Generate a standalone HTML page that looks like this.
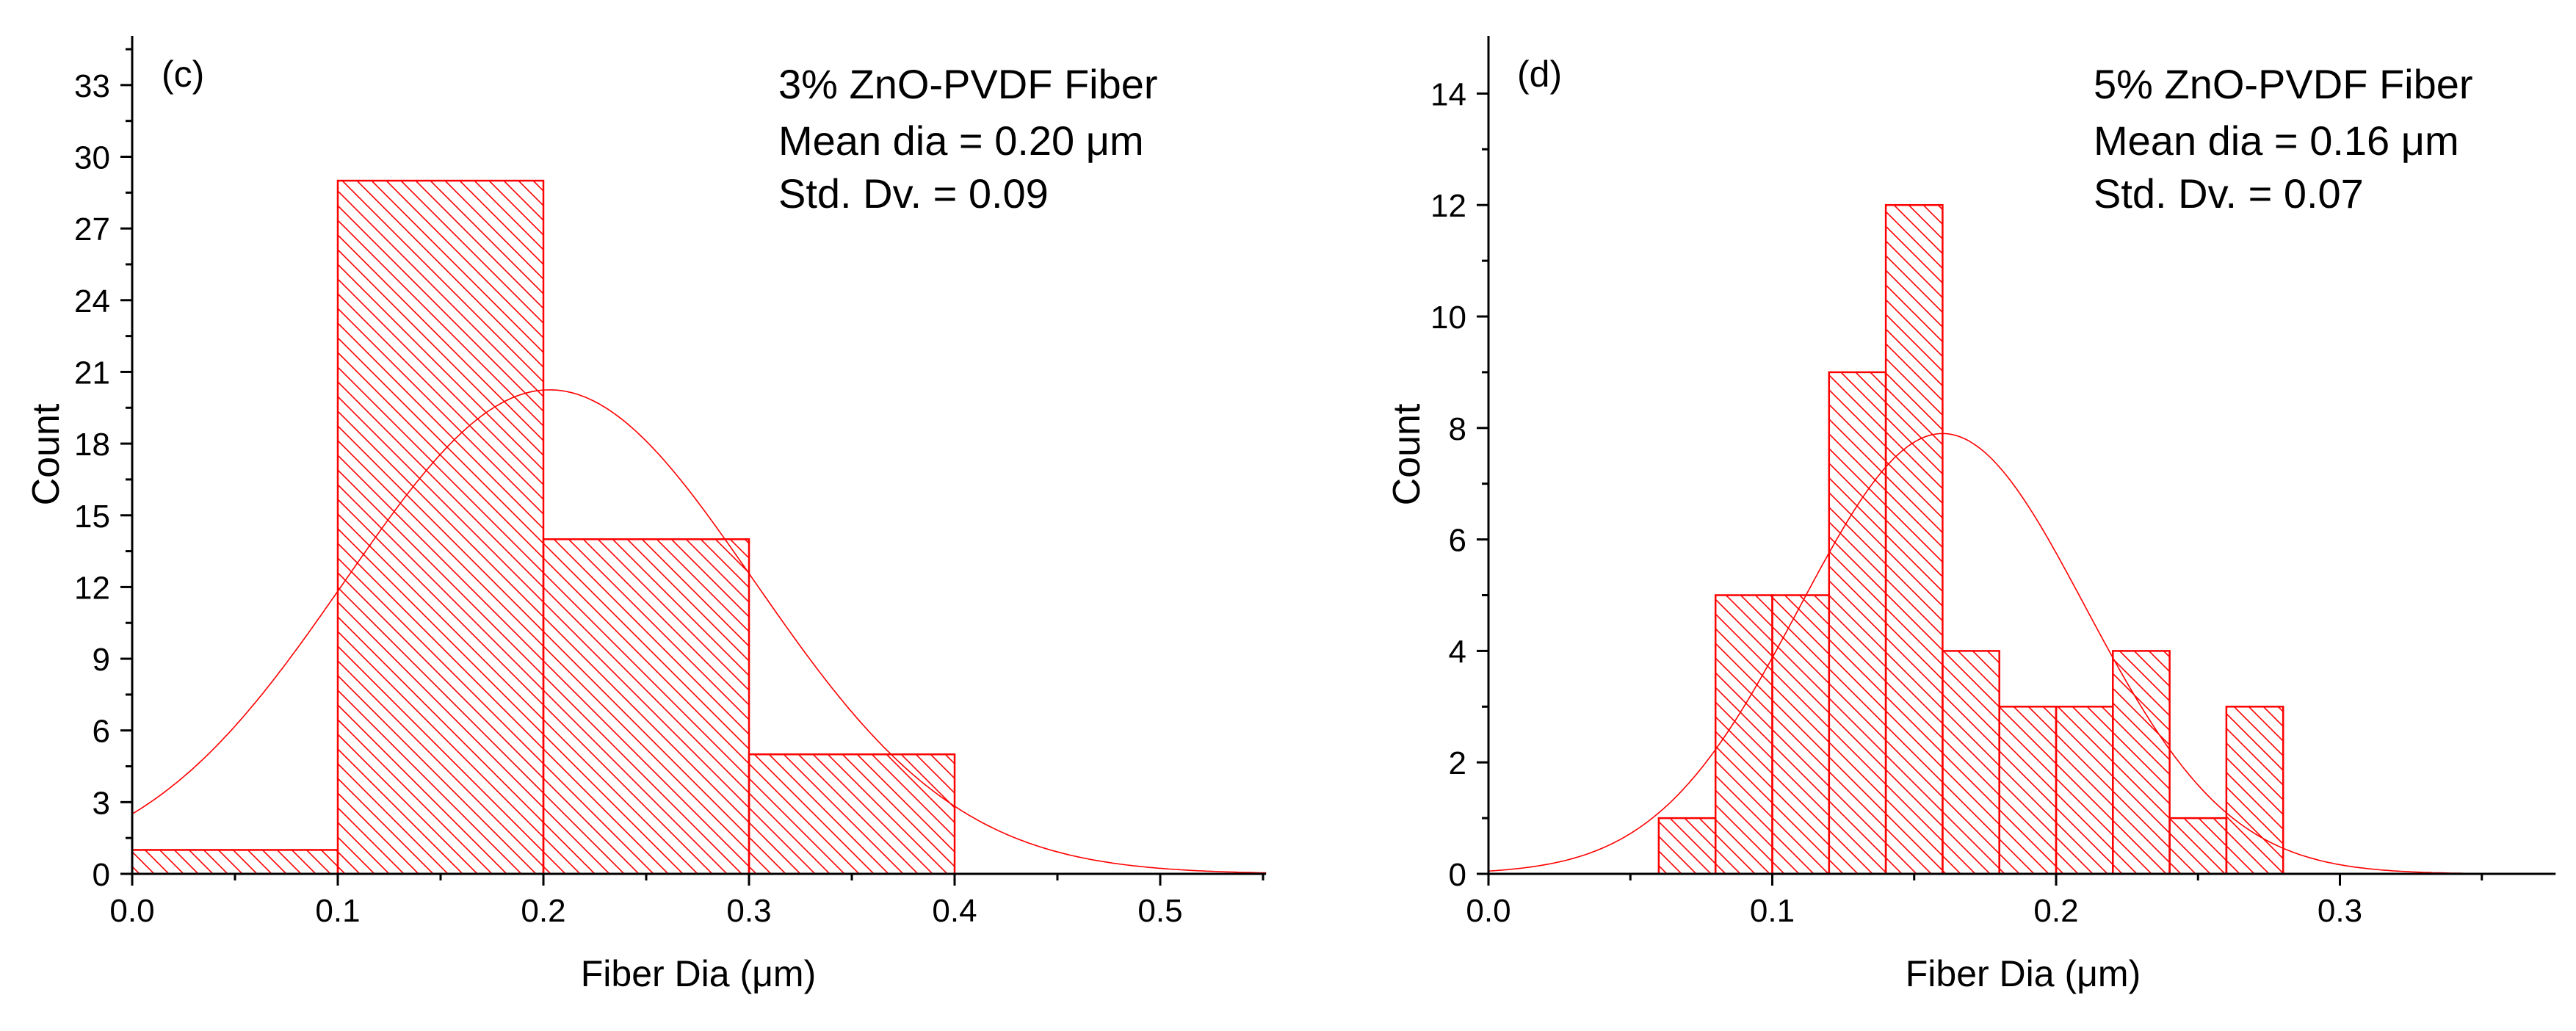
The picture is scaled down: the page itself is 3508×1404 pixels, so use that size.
<!DOCTYPE html>
<html><head><meta charset="utf-8">
<style>
html,body{margin:0;padding:0;background:#fff;}
svg{display:block;}
text{font-family:"Liberation Sans",Arial,sans-serif;fill:#000;}
</style></head>
<body>
<svg id="fig" width="3508" height="1404" viewBox="0 0 3508 1404" xmlns="http://www.w3.org/2000/svg">
<defs>
<pattern id="hatch" patternUnits="userSpaceOnUse" width="20" height="20">
<path d="M-5,-5 L25,25 M-5,15 L5,25 M15,-5 L25,5" stroke="#ff0000" stroke-width="1.6"/>
</pattern>
</defs>
<g id="chartC"></g>
<g id="chartD"></g>
</svg>
<script>
// Chart (c) data
const binsC = [0.0, 0.1, 0.2, 0.3];
const countsC = [1, 29, 14, 5];
const binWidthC = 0.1;
const fitC = {mean: 0.203, sd: 0.0993, peak: 20.25};
const xTicksC = ["0.0","0.1","0.2","0.3","0.4","0.5"];
const yTicksC = [0,3,6,9,12,15,18,21,24,27,30,33];
const textC = ["3% ZnO-PVDF Fiber","Mean dia = 0.20 \u03bcm","Std. Dv. = 0.09"];

// Chart (d) data
const binsD = [0.06,0.08,0.10,0.12,0.14,0.16,0.18,0.20,0.22,0.24,0.26];
const countsD = [1,5,5,9,12,4,3,3,4,1,3];
const binWidthD = 0.02;
const fitD = {mean: 0.16, sd: 0.0503, peak: 7.9};
const xTicksD = ["0.0","0.1","0.2","0.3"];
const yTicksD = [0,2,4,6,8,10,12,14];
const textD = ["5% ZnO-PVDF Fiber","Mean dia = 0.16 \u03bcm","Std. Dv. = 0.07"];

const NS = "http://www.w3.org/2000/svg";
function mk(tag, attrs, parent){
  const e = document.createElementNS(NS, tag);
  for (const k in attrs) e.setAttribute(k, attrs[k]);
  parent.appendChild(e);
  return e;
}

function draw(g, cfg){
  const X = v => cfg.x0 + v * cfg.pxPerX;
  const Y = v => cfg.y0 - v * cfg.pxPerY;
  // bars
  cfg.bins.forEach((b,i)=>{
    const r = mk('rect',{x:X(b), y:Y(cfg.counts[i]), width:X(b+cfg.bw)-X(b), height:Y(0)-Y(cfg.counts[i]), fill:'url(#hatch)', stroke:'#ff0000','stroke-width':2.5}, g);
    
    
  });
  // fit curve
  let d = '';
  for (let i=0;i<=400;i++){
    const xv = cfg.xmax * i/400;
    const yv = cfg.fit.peak * Math.exp(-Math.pow(xv-cfg.fit.mean,2)/(2*cfg.fit.sd*cfg.fit.sd));
    d += (i?'L':'M') + X(xv).toFixed(1) + ',' + Y(yv).toFixed(1);
  }
  const c = mk('path',{d:d, fill:'none', stroke:'#ff0000','stroke-width':1.6}, g);
  
  
  // axes
  const ax = mk('line',{x1:X(0), y1:Y(0), x2:X(cfg.xmax), y2:Y(0), stroke:'#000','stroke-width':3}, g);
  
  
  const ay = mk('line',{x1:X(0), y1:Y(0)+1.5, x2:X(0), y2:49, stroke:'#000','stroke-width':3}, g);
  
  
  // x ticks
  cfg.xTicks.forEach(t=>{
    const v = parseFloat(t);
    mk('line',{x1:X(v),y1:Y(0),x2:X(v),y2:Y(0)+16,stroke:'#000','stroke-width':3}, g);
    const lt = mk('text',{x:X(v), y:1255, 'font-size':44, 'text-anchor':'middle'}, g);
    lt.textContent = t;
    
    
  });
  for (let v=0.05; v<cfg.xmax; v+=0.1){
    mk('line',{x1:X(v),y1:Y(0),x2:X(v),y2:Y(0)+9,stroke:'#000','stroke-width':3}, g);
  }
  // y ticks
  cfg.yTicks.forEach(v=>{
    mk('line',{x1:X(0)-16,y1:Y(v),x2:X(0),y2:Y(v),stroke:'#000','stroke-width':3}, g);
    const lt = mk('text',{x:X(0)-30, y:Y(v)+16, 'font-size':44, 'text-anchor':'end'}, g);
    lt.textContent = String(v);
    
    
  });
  for (let v=cfg.yMinorStep; Y(v)>52; v+=cfg.yMinorStep*2){
    mk('line',{x1:X(0)-9,y1:Y(v),x2:X(0),y2:Y(v),stroke:'#000','stroke-width':3}, g);
  }
  // axis titles
  const xt = mk('text',{x:cfg.xTitleX, y:1343, 'font-size':50, 'text-anchor':'middle'}, g);
  xt.textContent = 'Fiber Dia (\u03bcm)';
  
  
  const yt = mk('text',{x:0, y:0, 'font-size':52, 'text-anchor':'middle', transform:'translate('+cfg.yTitleX+',619) rotate(-90)'}, g);
  yt.textContent = 'Count';
  
  
  // panel label
  const pl = mk('text',{x:cfg.labelX, y:118, 'font-size':50}, g);
  pl.textContent = cfg.label;
  
  
  // annotation
  const ys = [134, 211, 283];
  cfg.text.forEach((s,i)=>{
    const t = mk('text',{x:cfg.textX, y:ys[i], 'font-size':56}, g);
    t.textContent = s;
    
    
  });
}

draw(document.getElementById('chartC'), {
  x0:180, y0:1190, pxPerX:2800, pxPerY:32.55, xmax:0.5515,
  bins:binsC, counts:countsC, bw:binWidthC, fit:fitC,
  xTicks:xTicksC, yTicks:yTicksC, yMinorStep:1.5,
  xTitleX:951, yTitleX:80, labelX:220, label:'(c)', textX:1060, text:textC
});
draw(document.getElementById('chartD'), {
  x0:2027, y0:1190, pxPerX:3865, pxPerY:75.9, xmax:0.376,
  bins:binsD, counts:countsD, bw:binWidthD, fit:fitD,
  xTicks:xTicksD, yTicks:yTicksD, yMinorStep:1,
  xTitleX:2755, yTitleX:1933, labelX:2066, label:'(d)', textX:2851, text:textD
});
</script>
</body></html>
